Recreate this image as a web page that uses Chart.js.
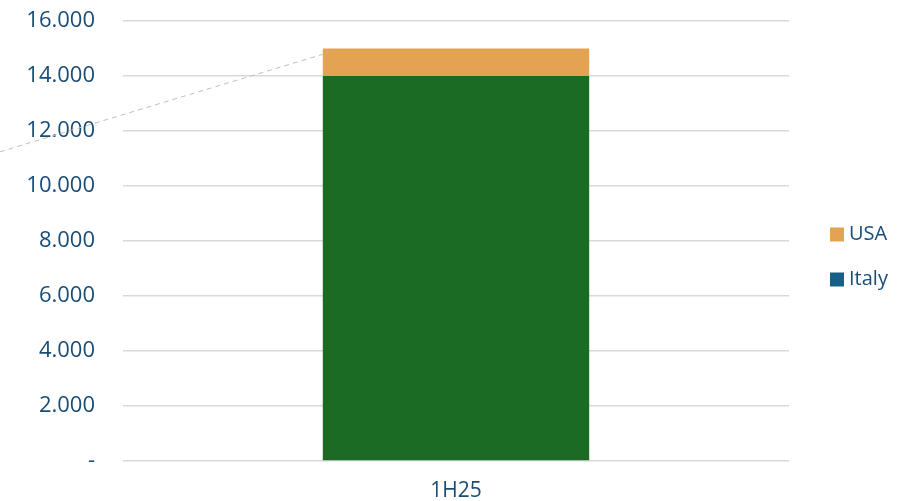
<!DOCTYPE html>
<html>
<head>
<meta charset="utf-8">
<script src="https://cdn.jsdelivr.net/npm/chart.js@4"></script>
<style>
  html, body { margin: 0; padding: 0; background: #fff; }
  #wrap { width: 897px; height: 501px; }
</style>
</head>
<body>
<div id="wrap"><canvas id="chart"></canvas></div>
<script>
// chart data
const categories = ['1H25'];
const italyValues = [14000];
const usaValues = [1000];
const yTicks = [0, 2000, 4000, 6000, 8000, 10000, 12000, 14000, 16000];

const textColor = '#194c76';
const gridColor = '#d9d9d9';
const fontFamily = 'Open Sans';

function formatThousands(v) {
    if (v === 0) return '-';
    return String(v).replace(/\B(?=(\d{3})+(?!\d))/g, '.');
}

// grey dashed leader line ending near the top-left of the bar
const leaderLine = {
    id: 'leaderLine',
    afterDatasetsDraw(chart) {
        const bar = chart.getDatasetMeta(1).data[0];
        if (!bar) return;
        const endX = bar.x - bar.width / 2 + 6;
        const endY = bar.y + 4;
        const startY = endY + endX * 0.302;
        const ctx = chart.ctx;
        ctx.save();
        ctx.strokeStyle = '#bfbfbf';
        ctx.lineWidth = 1;
        ctx.setLineDash([5, 4]);
        ctx.beginPath();
        ctx.moveTo(0, startY);
        ctx.lineTo(endX, endY);
        ctx.stroke();
        ctx.restore();
    }
};

// legend on the right, USA on top, Italy shown with its own legend colour
const sideLegend = {
    id: 'sideLegend',
    afterDraw(chart) {
        const area = chart.chartArea;
        const ctx = chart.ctx;
        const items = chart.data.datasets.slice().reverse();
        const midY = (area.top + area.bottom) / 2 + 16;
        const step = 45;
        ctx.save();
        ctx.font = '20px "' + fontFamily + '"';
        ctx.textBaseline = 'middle';
        items.forEach((ds, i) => {
            const y = midY + (i - (items.length - 1) / 2) * step;
            const x = area.right + 41;
            ctx.fillStyle = ds.legendColor;
            ctx.fillRect(x, y - 7, 14, 14);
            ctx.fillStyle = textColor;
            ctx.fillText(ds.label, x + 19, y);
        });
        ctx.restore();
    }
};

new Chart(document.getElementById('chart'), {
    type: 'bar',
    data: {
        labels: categories,
        datasets: [{
            label: 'Italy',
            data: italyValues,
            backgroundColor: '#1b6b25',
            legendColor: '#175f86',
            barPercentage: 0.4,
            categoryPercentage: 1
        }, {
            label: 'USA',
            data: usaValues,
            backgroundColor: '#e3a352',
            legendColor: '#e3a352',
            barPercentage: 0.4,
            categoryPercentage: 1
        }]
    },
    options: {
        responsive: true,
        maintainAspectRatio: false,
        animation: false,
        layout: { padding: { top: 21, right: 108, bottom: 0, left: 27 } },
        plugins: {
            tooltip: { enabled: false },
            legend: { display: false }
        },
        scales: {
            x: {
                stacked: true,
                grid: { display: false, drawTicks: false },
                border: { display: false },
                ticks: {
                    color: textColor,
                    font: { family: fontFamily, size: 21 },
                    padding: 17
                },
                afterFit(scale) {
                    scale.paddingLeft = 0;
                    scale.paddingRight = 0;
                    scale.height = 40;
                }
            },
            y: {
                stacked: true,
                min: 0,
                max: 16000,
                afterBuildTicks(axis) {
                    axis.ticks = yTicks.map(v => ({ value: v }));
                },
                afterFit(scale) {
                    scale.paddingTop = 0;
                    scale.paddingBottom = 0;
                    scale.width = 96;
                },
                grid: { color: gridColor, lineWidth: 1.5, drawTicks: false },
                border: { display: false },
                ticks: {
                    color: textColor,
                    font: { family: fontFamily, size: 22 },
                    padding: 28,
                    callback: v => formatThousands(v)
                }
            }
        }
    },
    plugins: [leaderLine, sideLegend]
});
</script>
</body>
</html>
